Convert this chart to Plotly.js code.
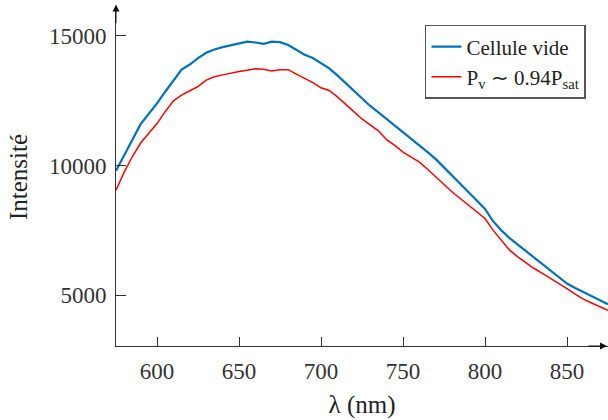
<!DOCTYPE html>
<html>
<head>
<meta charset="utf-8">
<script src="https://cdn.plot.ly/plotly-3.0.1.min.js"></script>
<style>html,body{margin:0;padding:0;background:#fff;}#chart{width:608px;height:420px;}</style>
</head>
<body>
<div id="chart"></div>
<script>
const wavelength = [575,580,585,590,595,600,605,610,615,620,625,630,635,640,645,650,655,660,665,670,675,680,685,690,695,700,705,710,715,720,725,730,735,740,745,750,755,760,765,770,775,780,785,790,795,800,805,810,815,820,825,830,835,840,845,850,855,860,865,870,875];
const celluleVide = [9800,10400,11000,11600,12000,12400,12850,13300,13700,13900,14150,14350,14480,14570,14640,14700,14780,14750,14700,14780,14760,14650,14480,14280,14150,13950,13750,13480,13180,12880,12600,12300,12050,11800,11550,11300,11050,10800,10520,10250,9920,9600,9280,8970,8650,8330,7850,7500,7200,6950,6700,6450,6200,5950,5700,5450,5280,5120,4950,4800,4650];
const pv094 = [9050,9750,10350,10870,11250,11620,12080,12500,12720,12880,13050,13300,13430,13500,13580,13630,13680,13740,13720,13650,13700,13700,13530,13380,13200,13000,12900,12650,12350,12080,11800,11580,11340,11000,10780,10520,10330,10130,9860,9580,9270,8980,8730,8470,8220,7960,7500,7100,6740,6480,6240,6030,5840,5650,5460,5250,5040,4850,4700,4550,4420];
const seriesNames = ['Cellule vide', 'P<sub>v</sub> ∼ 0.94P<sub>sat</sub>'];
const xTicks = [600,650,700,750,800,850];
const xTickText = ['600','650','700','750','800','850'];
const yTicks = [5000,10000,15000];
const yTickText = ['5000','10000','15000'];

const FONT = 'Liberation Serif, serif';
const data = [
  {x: wavelength, y: celluleVide, name: seriesNames[0], type: 'scatter', mode: 'lines',
   line: {color: '#0072BD', width: 2.2}},
  {x: wavelength, y: pv094, name: seriesNames[1], type: 'scatter', mode: 'lines',
   line: {color: '#FF0000', width: 1.5}}
];
const layout = {
  width: 608, height: 420,
  margin: {l: 116, r: 0, t: 8, b: 74},
  paper_bgcolor: '#fff', plot_bgcolor: '#fff',
  font: {family: FONT, size: 23, color: '#333'},
  showlegend: true,
  legend: {x: 0.628, y: 0.95, xanchor: 'left', yanchor: 'top',
    bgcolor: '#fff', bordercolor: '#555', borderwidth: 1.5,
    font: {family: FONT, size: 21, color: '#222'}, tracegroupgap: 0},
  xaxis: {range: [575, 875], tickvals: xTicks, ticktext: xTickText, ticks: 'inside', ticklen: 9, tickcolor: '#333',
    showline: true, linecolor: '#333', linewidth: 1, showgrid: false, zeroline: false,
    ticklabelstandoff: 4,
    tickfont: {family: FONT, size: 23, color: '#333'},
    title: {text: 'λ (nm)', font: {family: FONT, size: 25, color: '#222'}, standoff: 12}},
  yaxis: {range: [3040, 16080], tickvals: yTicks, ticktext: yTickText, ticks: 'inside', ticklen: 10, tickcolor: '#333',
    showline: true, linecolor: '#333', linewidth: 1, showgrid: false, zeroline: false,
    ticklabelstandoff: 4,
    tickfont: {family: FONT, size: 23, color: '#333'},
    title: {text: 'Intensité', font: {family: FONT, size: 25, color: '#222'}, standoff: 14}},
  annotations: [
    {xref: 'paper', yref: 'paper', x: 0, y: 1.01, ax: 0, ay: 20, showarrow: true,
     arrowhead: 2, arrowsize: 1.4, arrowwidth: 1, arrowcolor: '#111', text: ''},
    {xref: 'paper', yref: 'paper', x: 0.998, y: 0, ax: -20, ay: 0, showarrow: true,
     arrowhead: 2, arrowsize: 1.4, arrowwidth: 1, arrowcolor: '#111', text: ''}
  ]
};
Plotly.newPlot('chart', data, layout, {displayModeBar: false, staticPlot: true});
</script>
</body>
</html>
